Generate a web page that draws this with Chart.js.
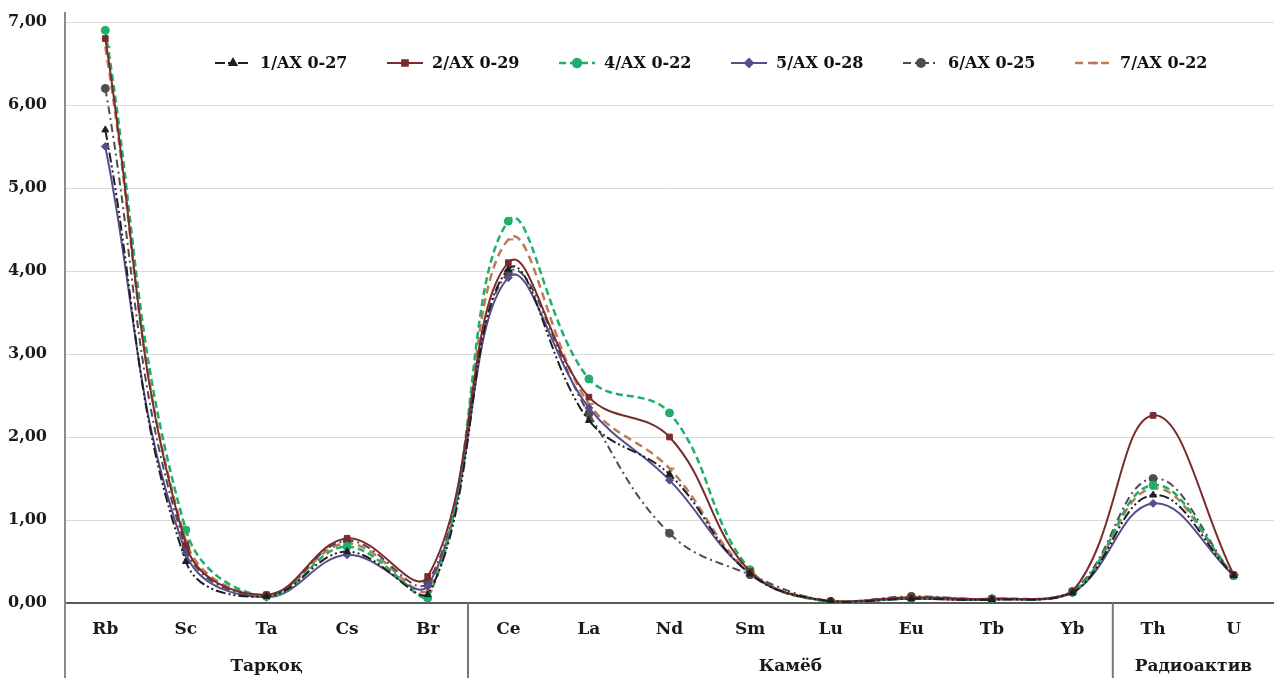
<!DOCTYPE html>
<html>
<head>
<meta charset="utf-8">
<script src="https://cdn.jsdelivr.net/npm/chart.js@4/dist/chart.umd.min.js"></script>
<style>
  html, body { margin: 0; padding: 0; background: #fff; overflow: hidden; }
  #wrap { width: 1274px; height: 678px; position: relative; }
  canvas { display: block; }
</style>
</head>
<body>
<div id="wrap"><canvas id="chart"></canvas></div>
<script>
// categories and groups
const elements = ['Rb', 'Sc', 'Ta', 'Cs', 'Br', 'Ce', 'La', 'Nd', 'Sm', 'Lu', 'Eu', 'Tb', 'Yb', 'Th', 'U'];
const groupNames = ['Тарқоқ', 'Камёб', 'Радиоактив'];
const groupSizes = [5, 8, 2];

// series values
const ax027 = [5.7, 0.5, 0.08, 0.62, 0.1, 4.02, 2.2, 1.55, 0.35, 0.02, 0.05, 0.04, 0.12, 1.3, 0.33];
const ax029 = [6.8, 0.7, 0.1, 0.78, 0.32, 4.1, 2.48, 2.0, 0.38, 0.02, 0.07, 0.05, 0.14, 2.26, 0.34];
const ax022a = [6.9, 0.88, 0.08, 0.68, 0.06, 4.6, 2.7, 2.29, 0.4, 0.01, 0.06, 0.05, 0.13, 1.42, 0.33];
const ax028 = [5.5, 0.6, 0.07, 0.58, 0.2, 3.92, 2.35, 1.48, 0.36, 0.01, 0.05, 0.04, 0.12, 1.2, 0.33];
const ax025 = [6.2, 0.66, 0.09, 0.75, 0.25, 3.98, 2.28, 0.84, 0.34, 0.02, 0.08, 0.05, 0.14, 1.5, 0.33];
const ax022b = [6.7, 0.75, 0.09, 0.72, 0.15, 4.38, 2.4, 1.62, 0.37, 0.02, 0.06, 0.05, 0.13, 1.38, 0.34];

// y ticks
const yMin = 0, yMax = 7, yStep = 1;

const FONT = '"DejaVu Serif", "Liberation Serif", serif';

function series(label, data, color, dash, style, width) {
  return {
    label: label,
    data: data,
    borderColor: color,
    backgroundColor: color,
    borderDash: dash,
    borderWidth: width,
    pointStyle: style,
    pointRadius: style === 'dash' ? 5 : 4,
    pointBorderWidth: style === 'dash' ? 2 : 1,
    pointBorderColor: color,
    pointBackgroundColor: color,
    tension: 0.4,
    fill: false
  };
}

const datasets = [
  series('1/AX 0-27', ax027, '#1f1f1f', [10, 3, 2, 3, 2, 3], 'triangle', 2),
  series('2/AX 0-29', ax029, '#7a2b2b', [], 'rect', 2),
  series('4/AX 0-22', ax022a, '#1fae6c', [7, 4], 'circle', 2.5),
  series('5/AX 0-28', ax028, '#5a4c8c', [], 'rectRot', 2),
  series('6/AX 0-25', ax025, '#4d4d4d', [8, 4, 2, 4], 'circle', 2),
  series('7/AX 0-22', ax022b, '#bf7a55', [8, 5], 'dash', 2.5)
];

// legend drawn inside the plot area, plus group labels and separators under the axis
const extras = {
  id: 'extras',
  afterDraw(chart) {
    const ctx = chart.ctx;
    const x = chart.scales.x;
    const area = chart.chartArea;
    ctx.save();

    // left axis line extends above the top gridline and below the x axis
    ctx.strokeStyle = '#8a8a8a';
    ctx.lineWidth = 2;
    ctx.beginPath();
    ctx.moveTo(area.left, 12);
    ctx.lineTo(area.left, chart.height);
    ctx.stroke();

    // group separators and labels
    let start = 0;
    ctx.font = 'bold 17px ' + FONT;
    ctx.fillStyle = '#1a1a1a';
    ctx.textAlign = 'center';
    ctx.textBaseline = 'middle';
    groupSizes.forEach((n, i) => {
      const end = start + n - 1;
      const half = (x.getPixelForValue(1) - x.getPixelForValue(0)) / 2;
      const l = x.getPixelForValue(start) - half;
      const r = Math.min(x.getPixelForValue(end) + half, chart.width);
      if (i > 0) {
        ctx.strokeStyle = '#777';
        ctx.lineWidth = 2;
        ctx.beginPath();
        ctx.moveTo(l, area.bottom);
        ctx.lineTo(l, chart.height);
        ctx.stroke();
      }
      ctx.fillText(groupNames[i], (l + r) / 2, 667);
      start += n;
    });

    // legend
    let lx = 215;
    const ly = 63;
    ctx.textAlign = 'left';
    ctx.font = 'bold 16px ' + FONT;
    chart.data.datasets.forEach(ds => {
      ctx.strokeStyle = ds.borderColor;
      ctx.lineWidth = ds.borderWidth;
      ctx.setLineDash(ds.borderDash);
      ctx.beginPath();
      ctx.moveTo(lx, ly);
      ctx.lineTo(lx + 36, ly);
      ctx.stroke();
      ctx.setLineDash([]);
      ctx.fillStyle = ds.backgroundColor;
      Chart.helpers.drawPoint(ctx, {
        pointStyle: ds.pointStyle,
        radius: ds.pointStyle === 'dash' ? 5 : 4,
        borderWidth: ds.pointStyle === 'dash' ? 2 : 1,
        rotation: 0
      }, lx + 18, ly);
      ctx.fillStyle = '#111';
      ctx.fillText(ds.label, lx + 45, ly + 1);
      lx += 172;
    });
    ctx.restore();
  }
};

new Chart(document.getElementById('chart'), {
  type: 'line',
  data: { labels: elements, datasets: datasets },
  plugins: [extras],
  options: {
    responsive: true,
    maintainAspectRatio: false,
    animation: false,
    layout: { autoPadding: false, padding: { top: 22, right: 0, left: 0, bottom: 0 } },
    plugins: {
      legend: { display: false },
      tooltip: { enabled: false }
    },
    scales: {
      x: {
        offset: true,
        grid: { display: true, drawOnChartArea: false, drawTicks: true, tickLength: 16, tickColor: 'rgba(0,0,0,0)' },
        border: { display: true, color: '#5a5a5a', width: 2 },
        ticks: {
          color: '#1a1a1a',
          font: { family: FONT, size: 17, weight: 'bold' },
          padding: 0,
          maxRotation: 0,
          autoSkip: false
        },
        afterFit(scale) {
          scale.height = 75;
          scale.paddingLeft = 0;
          scale.paddingRight = 0;
        }
      },
      y: {
        min: yMin,
        max: yMax,
        grid: { color: '#d9d9d9', lineWidth: 1, drawTicks: false },
        border: { display: false },
        ticks: {
          stepSize: yStep,
          color: '#1a1a1a',
          padding: 18,
          font: { family: FONT, size: 16, weight: 'bold' },
          callback: v => v.toFixed(2).replace('.', ',')
        },
        afterFit(scale) {
          scale.width = 65;
          scale.paddingTop = 0;
          scale.paddingBottom = 0;
        }
      }
    }
  }
});
</script>
</body>
</html>
